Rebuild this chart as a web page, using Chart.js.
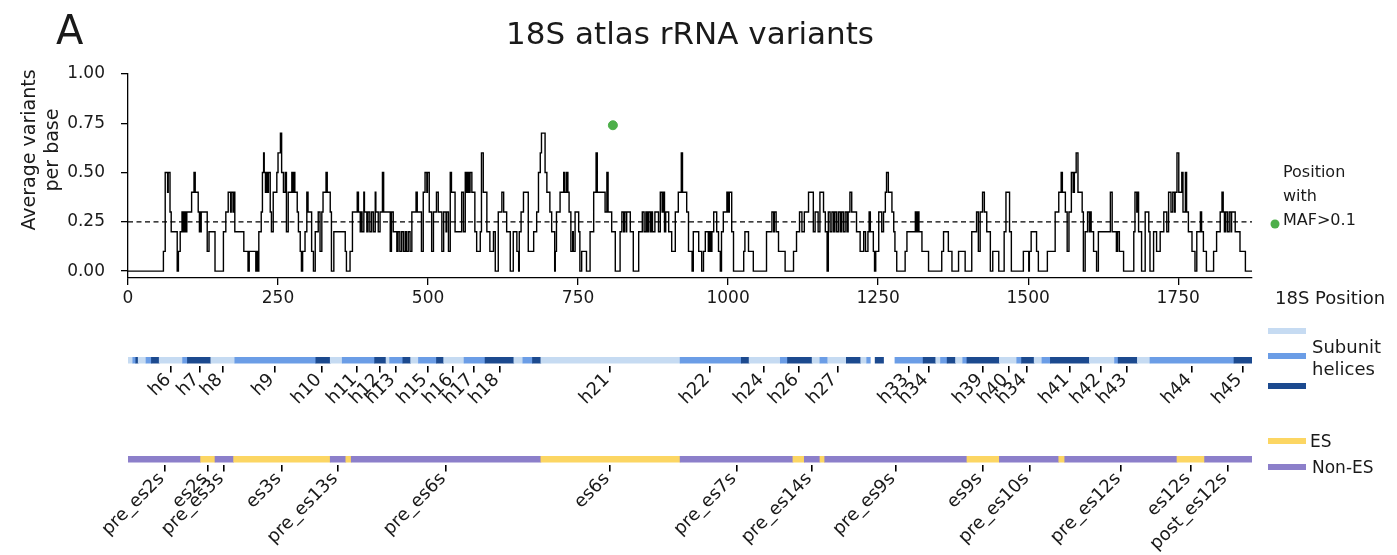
<!DOCTYPE html>
<html>
<head>
<meta charset="utf-8">
<title>18S atlas rRNA variants</title>
<script src="https://cdn.jsdelivr.net/npm/chart.js@4.4.1/dist/chart.umd.min.js"></script>
<style>
  html, body { margin: 0; padding: 0; background: #fff; }
  #wrap { position: relative; width: 1397px; height: 555px; overflow: hidden;
          font-family: "DejaVu Sans", sans-serif; color: #1a1a1a; }
  #wrap canvas { position: absolute; left: 0; }
  .txt { position: absolute; white-space: nowrap; line-height: 1; transform: translateY(-50%); }
  .sw { position: absolute; width: 38px; height: 6px; transform: translateY(-50%); }
  .dot { position: absolute; width: 9px; height: 9px; border-radius: 50%; background: #4daf4a;
         transform: translate(-50%, -50%); }
  .ylab { position: absolute; left: 40px; top: 150px; font-size: 19px; line-height: 23px;
          text-align: center; white-space: nowrap; transform: translate(-50%, -50%) rotate(-90deg); }
</style>
</head>
<body>
<div id="wrap">
  <canvas id="lineChart" width="1397" height="322" style="top:0"></canvas>
  <canvas id="helixChart" width="1397" height="100" style="top:322px"></canvas>
  <canvas id="esChart" width="1397" height="133" style="top:422px"></canvas>

  <div class="txt" style="left:56px;top:30px;font-size:40px;">A</div>
  <div class="txt" style="left:690px;top:33px;font-size:31px;transform:translate(-50%,-50%);">18S atlas rRNA variants</div>
  <div class="ylab">Average variants<br>per base</div>

  <div class="dot" style="left:1275px;top:224px;"></div>
  <div class="txt" style="left:1283px;top:172px;font-size:16px;">Position</div>
  <div class="txt" style="left:1283px;top:196px;font-size:16px;">with</div>
  <div class="txt" style="left:1283px;top:220px;font-size:16px;">MAF&gt;0.1</div>

  <div class="txt" style="left:1275px;top:298px;font-size:18px;">18S Position</div>

  <div class="sw" style="left:1268px;top:331px;background:#c6dbf2;"></div>
  <div class="sw" style="left:1268px;top:356px;background:#6b9de6;"></div>
  <div class="sw" style="left:1268px;top:386px;background:#1c4a8f;"></div>
  <div class="txt" style="left:1312px;top:347px;font-size:18px;">Subunit</div>
  <div class="txt" style="left:1312px;top:369px;font-size:18px;">helices</div>

  <div class="sw" style="left:1268px;top:441px;background:#fcd663;"></div>
  <div class="sw" style="left:1268px;top:467px;background:#8c7fca;"></div>
  <div class="txt" style="left:1310px;top:441px;font-size:17px;">ES</div>
  <div class="txt" style="left:1312px;top:467px;font-size:17px;">Non-ES</div>
</div>

<script>
// 18S atlas rRNA variants - step line of average variants per base, plus helix / ES tracks

const seqLength = 1873;
const xTicks = [0, 250, 500, 750, 1000, 1250, 1500, 1750];
const yTicks = [0, 0.25, 0.5, 0.75, 1.0];
const meanThreshold = 0.25;

// positions with minor allele frequency > 0.1
const mafPositions = [808];
const mafValues = [0.74];

// [position where the value starts, average variants per base]
const variantSteps = [
  [0,0],[59,0.1],[62,0.5],[66,0.4],[67,0.5],[70,0.3],[72,0.2],[82,0],[84,0.1],[87,0.2],
  [90,0.3],[92,0.2],[94,0.3],[96,0.2],[98,0.3],[106,0.4],[110,0.5],[112,0.4],[117,0.3],[119,0.2],
  [120,0.3],[121,0.2],[122,0.3],[132,0.1],[135,0.2],[145,0],[159,0.2],[163,0.3],[167,0.4],[171,0.3],
  [172,0.4],[175,0.3],[176,0.4],[178,0.2],[193,0.1],[200,0],[202,0.1],[213,0],[214,0.1],[216,0],
  [218,0.2],[222,0.3],[224,0.5],[226,0.6],[227,0.5],[229,0.4],[230,0.5],[232,0.4],[234,0.5],[237,0.3],
  [239,0.2],[242,0.4],[248,0.5],[250,0.6],[254,0.7],[256,0.5],[259,0.4],[262,0.5],[264,0.2],[267,0.4],
  [273,0.5],[275,0.4],[277,0.5],[278,0.4],[282,0.3],[284,0.2],[287,0.1],[289,0],[291,0.1],[295,0.2],
  [298,0.4],[300,0.3],[306,0.1],[309,0],[312,0.2],[317,0.3],[320,0.1],[323,0.3],[325,0.4],[330,0.5],
  [332,0.4],[337,0.3],[339,0],[343,0.2],[362,0.1],[364,0],[370,0.1],[374,0.3],[382,0.4],[384,0.3],
  [387,0.2],[388,0.3],[390,0.2],[393,0.4],[394,0.3],[398,0.2],[400,0.3],[403,0.2],[406,0.3],[409,0.2],
  [412,0.4],[413,0.3],[417,0.2],[420,0.3],[424,0.5],[426,0.3],[437,0.1],[439,0.3],[442,0.2],[448,0.1],
  [450,0.2],[453,0.1],[456,0.2],[459,0.1],[462,0.2],[464,0.1],[467,0.2],[470,0.1],[473,0.3],[480,0.4],
  [482,0.3],[489,0.1],[492,0.4],[495,0.5],[498,0.4],[499,0.5],[502,0.3],[506,0.1],[509,0.3],[514,0.4],
  [517,0.3],[523,0.1],[526,0.3],[530,0.2],[531,0.3],[534,0.1],[537,0.5],[539,0.4],[545,0.2],[556,0.4],
  [559,0.2],[562,0.5],[564,0.4],[566,0.5],[568,0.4],[570,0.5],[573,0.4],[578,0.2],[581,0.1],[587,0.2],
  [589,0.6],[592,0.4],[598,0.2],[603,0.1],[609,0.2],[612,0],[617,0.3],[623,0.4],[626,0.3],[631,0.2],
  [637,0],[642,0.2],[648,0.1],[651,0],[652,0.2],[655,0.3],[659,0.4],[667,0.1],[676,0.2],[681,0.3],
  [684,0.5],[687,0.6],[689,0.7],[695,0.5],[698,0.4],[703,0.3],[706,0.2],[711,0],[712,0.1],[714,0.3],
  [720,0.4],[726,0.5],[728,0.4],[731,0.5],[733,0.4],[735,0.3],[738,0.1],[741,0.2],[742,0.1],[745,0.3],
  [751,0.2],[753,0],[756,0.1],[764,0],[770,0.2],[776,0.4],[780,0.6],[782,0.4],[795,0.3],[798,0.5],
  [800,0.3],[806,0.2],[812,0],[820,0.2],[823,0.3],[826,0.2],[827,0.3],[830,0.2],[831,0.3],[837,0.2],
  [842,0],[851,0.2],[857,0.3],[860,0.2],[863,0.3],[865,0.2],[867,0.3],[870,0.2],[872,0.3],[874,0.2],
  [878,0.3],[884,0.2],[887,0.4],[890,0.3],[892,0.4],[894,0.2],[896,0.3],[901,0.2],[906,0.1],[912,0.3],
  [917,0.4],[922,0.6],[924,0.4],[931,0.3],[934,0.1],[940,0],[942,0.2],[951,0.1],[956,0],[959,0.1],
  [962,0.2],[967,0.1],[969,0.2],[971,0.1],[973,0.2],[976,0.3],[981,0.2],[984,0.1],[987,0],[989,0.2],
  [992,0.3],[998,0.4],[1000,0.3],[1002,0.4],[1006,0.2],[1009,0],[1026,0.1],[1028,0.2],[1034,0.1],[1042,0],
  [1064,0.2],[1073,0.3],[1076,0.2],[1077,0.3],[1080,0.2],[1084,0.1],[1095,0],[1109,0.1],[1114,0.2],[1119,0.3],
  [1123,0.2],[1127,0.3],[1134,0.4],[1142,0.2],[1145,0.3],[1150,0.2],[1153,0.4],[1159,0.3],[1162,0.2],[1165,0],
  [1167,0.3],[1170,0.2],[1173,0.3],[1176,0.2],[1178,0.3],[1181,0.2],[1184,0.3],[1187,0.2],[1189,0.3],[1192,0.2],
  [1195,0.3],[1198,0.2],[1200,0.3],[1203,0.4],[1206,0.3],[1214,0.2],[1220,0.1],[1226,0.2],[1229,0.1],[1233,0.2],
  [1235,0.3],[1237,0.2],[1242,0.1],[1244,0],[1246,0.1],[1251,0.3],[1256,0.2],[1259,0.3],[1262,0.4],[1264,0.5],
  [1267,0.4],[1273,0.3],[1276,0.2],[1278,0.1],[1281,0],[1295,0.1],[1298,0.2],[1312,0.3],[1314,0.2],[1316,0.3],
  [1318,0.2],[1323,0.1],[1334,0],[1356,0.1],[1359,0.2],[1367,0.1],[1373,0],[1384,0.1],[1395,0],[1406,0.2],
  [1414,0.3],[1417,0.1],[1420,0.3],[1424,0.4],[1427,0.3],[1431,0.2],[1437,0],[1441,0.1],[1451,0],[1460,0.2],
  [1463,0.4],[1469,0.2],[1472,0],[1492,0.1],[1501,0],[1502,0.1],[1505,0.2],[1514,0.1],[1517,0],[1532,0.1],
  [1545,0.3],[1551,0.4],[1555,0.5],[1557,0.4],[1562,0.3],[1565,0.1],[1568,0.3],[1572,0.5],[1575,0.4],[1577,0.5],
  [1580,0.6],[1583,0.4],[1590,0.3],[1592,0],[1595,0.2],[1599,0.3],[1602,0.2],[1603,0.3],[1605,0.2],[1609,0.1],
  [1614,0],[1617,0.2],[1637,0.4],[1640,0.2],[1647,0.1],[1649,0.2],[1652,0.1],[1659,0],[1676,0.2],[1678,0.4],
  [1681,0.3],[1682,0.4],[1684,0.2],[1689,0],[1695,0.3],[1701,0.2],[1703,0],[1709,0.2],[1714,0.1],[1720,0.2],
  [1726,0.3],[1731,0.2],[1734,0.4],[1738,0.3],[1741,0.4],[1744,0.3],[1745,0.4],[1748,0.6],[1751,0.4],[1756,0.5],
  [1758,0.3],[1762,0.5],[1764,0.3],[1767,0.2],[1773,0.1],[1778,0],[1781,0.2],[1787,0.3],[1789,0.2],[1792,0.1],
  [1797,0],[1809,0.1],[1814,0.2],[1820,0.3],[1823,0.4],[1825,0.3],[1827,0.2],[1829,0.3],[1832,0.2],[1835,0.3],
  [1838,0.2],[1839,0.3],[1845,0.2],[1853,0.1],[1862,0],[1873,0]
];

// helix track: [start, end, shade class 0 light / 1 medium / 2 dark]
const helixSegments = [
  [0,8,0],[8,13,1],[13,17,2],[17,30,0],[30,39,1],[39,52,2],[52,91,0],[91,99,1],[99,138,2],[138,178,0],
  [178,313,1],[313,337,2],[337,357,0],[357,411,1],[411,430,2],[430,436,0],[436,458,1],[458,471,2],[471,484,0],[484,514,1],
  [514,526,2],[526,560,0],[560,595,1],[595,643,2],[643,658,0],[658,674,1],[674,688,2],[688,920,0],[920,1022,1],[1022,1035,2],
  [1035,1087,0],[1087,1099,1],[1099,1140,2],[1140,1153,0],[1153,1166,1],[1166,1197,0],[1197,1221,2],[1221,1231,0],[1231,1237,1],[1245,1259,2],
  [1278,1325,1],[1325,1346,2],[1346,1354,0],[1354,1365,1],[1365,1379,2],[1379,1391,0],[1391,1398,1],[1398,1452,2],[1452,1481,0],[1481,1489,1],
  [1489,1510,2],[1510,1523,0],[1523,1537,1],[1537,1602,2],[1602,1644,0],[1644,1650,1],[1650,1682,2],[1682,1703,0],[1703,1843,1],[1843,1873,2]
];
const helixTickPos = [72, 119, 158, 244, 323, 382, 420, 446, 499, 542, 576, 619, 803,
                      970, 1060, 1118, 1182, 1301, 1334, 1425, 1467, 1498, 1569, 1621, 1665, 1773, 1857];
const helixTickLabels = ['h6','h7','h8','h9','h10','h11','h12','h13','h15','h16','h17','h18','h21',
                         'h22','h24','h26','h27','h33','h34','h39','h40','h34','h41','h42','h43','h44','h45'];

// expansion segment track: [start, end, 1 = ES / 0 = non-ES]
const esSegments = [
  [0,121,0],[121,145,1],[145,176,0],[176,337,1],[337,363,0],[363,372,1],[372,688,0],[688,920,1],[920,1108,0],[1108,1127,1],
  [1127,1153,0],[1153,1161,1],[1161,1398,0],[1398,1452,1],[1452,1551,0],[1551,1561,1],[1561,1748,0],[1748,1794,1],[1794,1873,0]
];
const esTickPos = [61, 133, 160, 256, 350, 530, 803, 1014, 1140, 1279, 1424, 1502, 1655, 1771, 1832];
const esTickLabels = ['pre_es2s','es2s','pre_es3s','es3s','pre_es13s','pre_es6s','es6s','pre_es7s',
                      'pre_es14s','pre_es9s','es9s','pre_es10s','pre_es12s','es12s','post_es12s'];

const helixColors = ['#c6dbf2', '#6b9de6', '#1c4a8f'];
const esColors = ['#8c7fca', '#fcd663'];

Chart.defaults.font.family = '"DejaVu Sans", sans-serif';
Chart.defaults.color = '#1a1a1a';

const axisGrid = { drawOnChartArea: false, tickLength: 7, color: '#000', lineWidth: 1.3 };

new Chart(document.getElementById('lineChart'), {
    type: 'line',
    data: {
        datasets: [
            {
                type: 'scatter',
                label: 'Position with MAF>0.1',
                data: mafPositions.map((p, i) => ({ x: p, y: mafValues[i] })),
                backgroundColor: '#4daf4a',
                borderColor: '#4daf4a',
                pointRadius: 4.5,
                order: 0
            },
            {
                label: 'threshold',
                data: [{ x: 0, y: meanThreshold }, { x: seqLength, y: meanThreshold }],
                borderColor: '#000',
                borderWidth: 1.2,
                borderDash: [5, 3.5],
                pointRadius: 0,
                order: 1
            },
            {
                label: 'Average variants per base',
                data: variantSteps.map(s => ({ x: s[0], y: s[1] })),
                stepped: 'before',
                borderColor: '#000',
                borderWidth: 1.4,
                pointRadius: 0,
                fill: false,
                order: 2
            }
        ]
    },
    options: {
        responsive: false,
        animation: false,
        layout: { padding: { left: 0, right: 145, top: 74, bottom: 0 } },
        plugins: {
            legend: { display: false },
            tooltip: { enabled: false }
        },
        scales: {
            x: {
                type: 'linear',
                min: 0,
                max: seqLength,
                afterBuildTicks: a => { a.ticks = xTicks.map(v => ({ value: v })); },
                afterFit: a => { a.height = 44; },
                ticks: { font: { size: 17 }, color: '#1a1a1a', padding: 3, maxRotation: 0, autoSkip: false,
                         callback: v => String(v) },
                grid: axisGrid,
                border: { color: '#000', width: 1.3 }
            },
            y: {
                min: -0.035,
                max: 1,
                afterBuildTicks: a => { a.ticks = yTicks.map(v => ({ value: v })); },
                afterFit: a => { a.width = 128; },
                ticks: { font: { size: 17 }, color: '#1a1a1a', padding: 16, callback: v => v.toFixed(2) },
                grid: axisGrid,
                border: { color: '#000', width: 1.3 }
            }
        }
    }
});

function trackChart(id, segments, colors, tickPos, tickLabels, padTop, axisHeight) {
    return new Chart(document.getElementById(id), {
        type: 'bar',
        data: {
            labels: ['track'],
            datasets: [{
                data: segments.map(s => ({ x: [s[0], s[1]], y: 'track' })),
                backgroundColor: segments.map(s => colors[s[2]]),
                borderWidth: 0,
                barThickness: 6,
                grouped: false
            }]
        },
        options: {
            indexAxis: 'y',
            responsive: false,
            animation: false,
            layout: { padding: { left: 128, right: 145, top: padTop, bottom: 0 } },
            plugins: { legend: { display: false }, tooltip: { enabled: false } },
            scales: {
                y: { display: false },
                x: {
                    type: 'linear',
                    min: 0,
                    max: seqLength,
                    afterBuildTicks: a => { a.ticks = tickPos.map(v => ({ value: v })); },
                    afterFit: a => { a.height = axisHeight; },
                    ticks: {
                        autoSkip: false, minRotation: 45, maxRotation: 45,
                        font: { size: 18 }, color: '#1a1a1a', padding: -3, labelOffset: -3,
                        callback: (v, i) => tickLabels[i]
                    },
                    grid: { drawOnChartArea: false, tickLength: 7, color: '#000', lineWidth: 1.6 },
                    border: { display: false }
                }
            }
        }
    });
}

trackChart('helixChart', helixSegments, helixColors, helixTickPos, helixTickLabels, 33, 56.5);
trackChart('esChart', esSegments, esColors, esTickPos, esTickLabels, 32, 90.5);
</script>
</body>
</html>
